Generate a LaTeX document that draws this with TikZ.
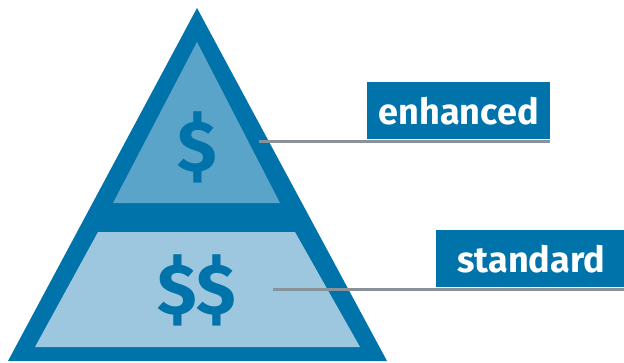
\documentclass[tikz,border=0pt]{standalone}
\usepackage{fontspec}
\setmainfont{Fira Sans}
\usetikzlibrary{positioning}
\definecolor{pyrdark}{HTML}{0073AA}
\definecolor{pyrmid}{HTML}{5BA4C9}
\definecolor{pyrlight}{HTML}{9DC6DF}
\definecolor{leadgray}{HTML}{8A9299}
\begin{document}
\begin{tikzpicture}[x=1pt,y=-1pt,
    tag/.style={fill=pyrdark,text=white,font=\bfseries\fontsize{36}{36}\selectfont,inner sep=0pt,minimum height=57pt},
    price/.style={text=pyrdark,font=\bfseries\fontsize{72}{72}\selectfont,inner sep=0pt},
    lead/.style={draw=leadgray,line width=3pt}]
  \useasboundingbox (0,0) rectangle (624,362);
  % pyramid layers
  \fill[pyrdark] (197,8) -- (387,361) -- (8,361) -- cycle;
  \fill[pyrmid] (197,42) -- (280,203) -- (113,203) -- cycle;
  \fill[pyrlight] (98,232) -- (295,232) -- (360,347) -- (35,347) -- cycle;
  \node[price] (top) at (197,147) {\$};
  \node[price] (bot) at (197,290) {\$\$};
  % labels
  \node[tag,minimum width=183pt,anchor=north west] (enh) at (367,82) {enhanced};
  \node[tag,minimum width=190pt,anchor=north west] (std) at (436,230) {standard};
  \coordinate (enhpt) at (259,141);
  \coordinate (stdpt) at (273,289);
  \draw[lead] (enhpt) -- (enhpt -| enh.east);
  \draw[lead] (stdpt) -- (stdpt -| std.east);
\end{tikzpicture}
\end{document}
